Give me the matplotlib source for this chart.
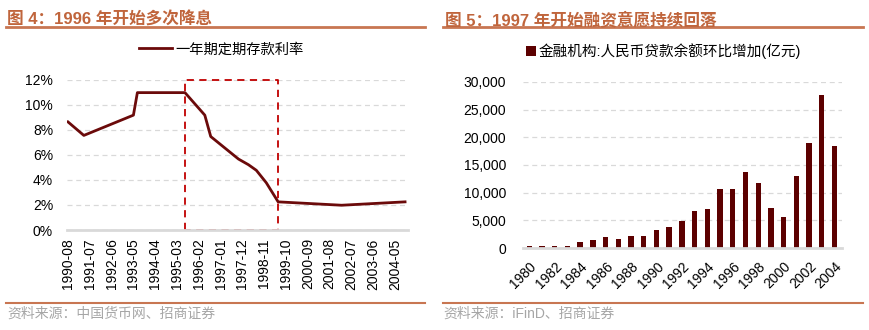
import matplotlib.pyplot as plt
import pandas as pd

plt.rcParams['font.family'] = ['Liberation Sans', 'Noto Sans CJK SC', 'DejaVu Sans']

# one-year deposit rate, at the dates it changed
rate_dates = ['1990-08', '1991-04', '1993-05', '1993-07', '1995-07', '1996-05',
              '1996-08', '1997-10', '1998-03', '1998-07', '1998-12', '1999-06',
              '2002-02', '2004-10']
rate_values = [8.64, 7.56, 9.18, 10.98, 10.98, 9.18,
               7.47, 5.67, 5.22, 4.77, 3.78, 2.25,
               1.98, 2.25]
rate_ticks = ['1990-08', '1991-07', '1992-06', '1993-05', '1994-04', '1995-03',
              '1996-02', '1997-01', '1997-12', '1998-11', '1999-10', '2000-09',
              '2001-08', '2002-07', '2003-06', '2004-05']

# yearly increase in RMB loans (100m yuan)
loan_years = list(range(1980, 2005))
loan_values = [400, 350, 300, 420, 1200, 1450, 1980, 1740, 2200, 2280,
               3300, 3840, 4980, 6720, 7020, 10620, 10680, 13800, 11700, 7260,
               5640, 13020, 19020, 27700, 18480]

dark_red = '#6B0A0A'
title_color = '#C0653C'
grid_color = '#D9D9D9'


def month_index(s):
    p = pd.Period(s, freq='M')
    return (p - pd.Period('1990-08', freq='M')).n


fig = plt.figure(figsize=(8.7, 3.3), dpi=100)

# titles, rules and sources
fig.text(0.008, 0.965, '图 4：1996 年开始多次降息', fontsize=12, fontweight='bold',
         color=title_color, va='top')
fig.text(0.512, 0.965, '图 5：1997 年开始融资意愿持续回落', fontsize=12, fontweight='bold',
         color=title_color, va='top')
for x0, x1 in [(0.007, 0.489), (0.509, 0.992)]:
    fig.add_artist(plt.Line2D([x0, x1], [0.917, 0.917], color='#C87652', lw=2))
    fig.add_artist(plt.Line2D([x0, x1], [0.083, 0.083], color='#C87652', lw=1.5))
fig.text(0.008, 0.048, '资料来源：中国货币网、招商证券', fontsize=10, color='#A6A6A6', va='center')
fig.text(0.51, 0.048, '资料来源：iFinD、招商证券', fontsize=10, color='#A6A6A6', va='center')

# left: deposit rate
ax1 = fig.add_axes([0.077, 0.303, 0.392, 0.455])
xs = [month_index(d) for d in rate_dates]
ax1.plot(xs, rate_values, color=dark_red, lw=2, label='一年期定期存款利率')
box_x0 = month_index('1995-07')
box_x1 = month_index('1999-06')
ax1.plot([box_x0, box_x0, box_x1, box_x1, box_x0], [0, 12, 12, 0, 0],
         color='#C00000', lw=1.3, ls=(0, (4, 3)), clip_on=False)
ax1.set_ylim(0, 12)
ax1.set_xlim(-0.5, 171.5)
ax1.set_yticks(range(0, 13, 2))
ax1.set_yticklabels([f'{v}%' for v in range(0, 13, 2)])
ax1.set_xticks([month_index(t) for t in rate_ticks])
ax1.set_xticklabels(rate_ticks, rotation=90)
ax1.tick_params(axis='y', pad=10)
ax1.tick_params(axis='x', pad=6)
ax1.legend(loc='lower center', bbox_to_anchor=(0.453, 1.07), frameon=False,
           fontsize=10.3, handlelength=2.3, handletextpad=0.2)

# right: loans
ax2 = fig.add_axes([0.601, 0.248, 0.367, 0.504])
ax2.bar(loan_years, loan_values, width=0.42, color='#5C0000',
        label='金融机构:人民币贷款余额环比增加(亿元)')
ax2.set_ylim(0, 30000)
ax2.set_xlim(1979.5, 2004.6)
ax2.set_yticks(range(0, 30001, 5000))
ax2.set_yticklabels([f'{v:,}' for v in range(0, 30001, 5000)])
ax2.set_xticks(loan_years[::2])
ax2.set_xticklabels([str(y) for y in loan_years[::2]], rotation=45,
                    ha='right', rotation_mode='anchor')
ax2.tick_params(axis='y', pad=12)
ax2.tick_params(axis='x', pad=8)
ax2.legend(loc='lower center', bbox_to_anchor=(0.44, 1.06), frameon=False,
           fontsize=10.5, handlelength=0.7, handleheight=0.7, handletextpad=0.2)

for ax in (ax1, ax2):
    for s in ['top', 'right', 'left']:
        ax.spines[s].set_visible(False)
    ax.spines['bottom'].set_color(grid_color)
    ax.spines['bottom'].set_linewidth(2)
    ax.tick_params(length=0, labelsize=10)
    ax.grid(axis='y', color=grid_color, ls=(0, (4, 3)), lw=0.9)
    ax.set_axisbelow(True)

fig.savefig('out.png', dpi=100)
